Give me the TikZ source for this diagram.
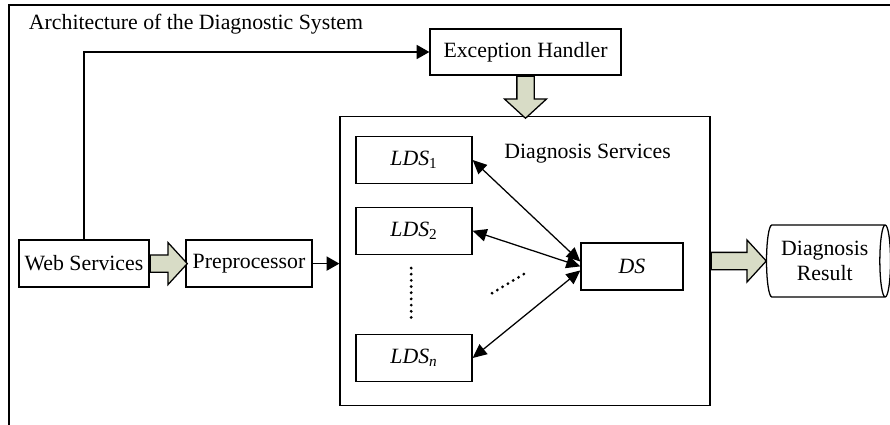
\documentclass[tikz,border=0pt]{standalone}
\usepackage{fontspec}
\setmainfont{Liberation Serif}
\usepackage{xcolor}
\usepackage{tikz}
\usetikzlibrary{arrows.meta,positioning,shapes.geometric,shapes.arrows,calc}

\definecolor{fatfill}{RGB}{216,220,198}

\begin{document}
\begin{tikzpicture}[font=\fontsize{15.5}{18}\selectfont,
          box/.style={draw,line width=0.9pt,rectangle,minimum height=1.175cm,inner sep=2pt},
          fat/.style={draw,line width=0.9pt,single arrow,fill=fatfill,inner sep=0.2cm,anchor=tail,
                      single arrow head extend=0.31cm,single arrow tip angle=95},
          link/.style={line width=0.9pt,-{Triangle[length=9pt,width=10pt]}},
          both/.style={line width=0.9pt,{Triangle[length=10pt,width=9pt]}-{Triangle[length=10pt,width=9pt]}},
          dots/.style={line width=2.2pt,dash pattern=on 0pt off 4.4pt,line cap=round}]
        \useasboundingbox (0,0) rectangle (22.25,-10.625);
        % frame, open to the right and below
        \draw[line width=1.2pt] (0.225,-10.625) |- (22.25,-0.125);
        \node[anchor=west] (title) at (0.6,-0.6) {Architecture of the Diagnostic System};

        \node[box,minimum width=4.775cm,minimum height=1.15cm] (exc) at (13.1375,-1.3) {Exception Handler};
        \node[box,minimum width=9.25cm,minimum height=7.225cm] (svc) at (13.125,-6.525) {};
        \node (svclbl) at (14.69,-3.83) {Diagnosis Services};

        \node[box,minimum width=2.9cm] (lds1) at (10.35,-4.0)  {\textit{LDS}\textsubscript{1}};
        \node[box,minimum width=2.9cm] (lds2) at (10.35,-5.77) {\textit{LDS}\textsubscript{2}};
        \node[box,minimum width=2.9cm] (ldsn) at (10.35,-8.95) {\textit{LDS}\textsubscript{\textit{n}}};
        \node[box,minimum width=2.55cm] (ds)  at (15.8,-6.66)  {\textit{DS}};

        \node[box,minimum width=3.25cm] (web) at (2.1,-6.59)   {Web Services};
        \node[box,minimum width=3.15cm] (pre) at (6.225,-6.59) {Preprocessor};

        \node[draw,line width=0.9pt,cylinder,aspect=0.25,minimum width=1.8cm,minimum height=3.1cm,
              align=center,inner sep=1pt] (res) at (20.62,-6.525) {Diagnosis\\Result};

        % fat arrows
        \node[fat,minimum height=0.925cm] (a1) at (web.east) {};
        \node[fat,minimum height=1.05cm,shape border rotate=270] (a2) at (exc.south) {};
        \node[fat,minimum height=1.375cm] (a3) at (svc.east) {};

        % plain links
        \draw[link] (web.north) |- (exc.west);
        \draw[link] (pre.east) -- (pre.east -| svc.west);
        \draw[both] (lds1.east) -- ([yshift=0.12cm]ds.west);
        \draw[both] (lds2.east) -- (ds.west);
        \draw[both] (ldsn.east) -- ([yshift=-0.1cm]ds.west);

        % the elided ones
        \coordinate (v1) at (10.28,-6.7);
        \coordinate (v2) at (10.28,-7.95);
        \coordinate (d1) at (12.3,-7.33);
        \coordinate (d2) at (13.1,-6.85);
        \draw[dots] (v1) -- (v2);
        \draw[dots] (d1) -- (d2);
      \end{tikzpicture}
\end{document}
